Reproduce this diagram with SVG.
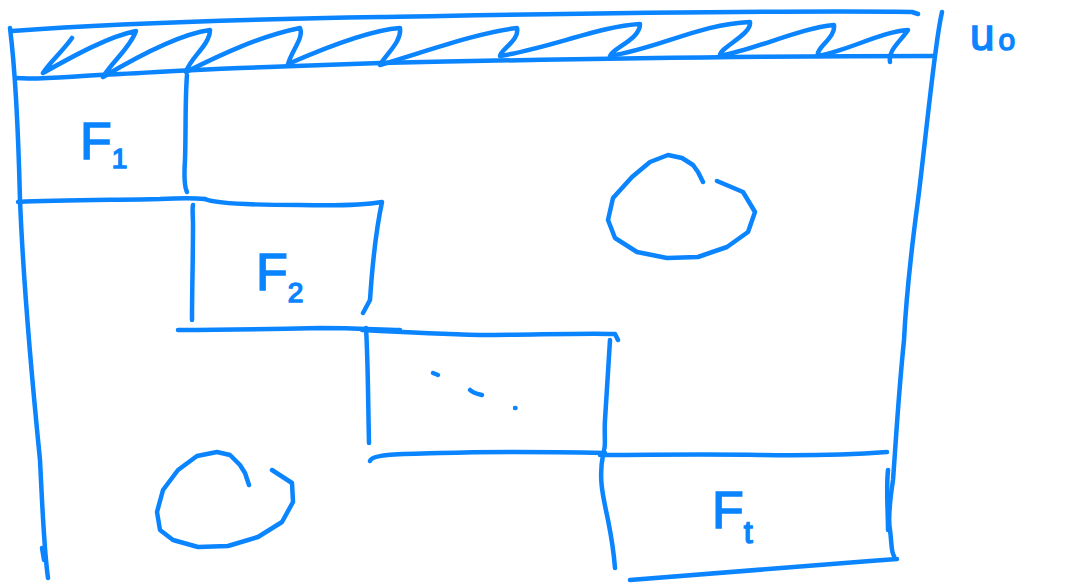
<svg xmlns="http://www.w3.org/2000/svg" width="1068" height="584" viewBox="0 0 1068 584">
<style>
.s{fill:none;stroke:#0a84ff;stroke-width:4.5;stroke-linecap:round;stroke-linejoin:round}
.t{fill:#0a84ff;stroke:#0a84ff;stroke-width:1.5;font-family:"Liberation Sans",Arial,sans-serif}
</style>
<rect width="1068" height="584" fill="#fff"/>
<g id="frame">
<path class="s" d="M12,31 C80,26 200,20 380,17 C560,14 760,10 912,12 L918,14"/>
<path class="s" d="M10,28 C14,60 18,120 20,200 C24,300 34,400 40,460 C43,520 44,550 48,578"/>
<path class="s" d="M42,548 L44,560"/>
<path class="s" d="M942,12 C938,30 936,50 935,56 C928,110 922,170 918,200 C910,260 906,300 904,340 C898,400 896,440 893,480 C890,500 888,520 890,530 C892,545 891,552 894,556"/>
<path class="s" d="M16,78 C40,80 70,76 120,74 C160,72 186,70 240,68 C300,66 350,64 380,63 C560,59 760,56 935,56"/>
<path class="s" d="M72,38 C62,52 50,62 43,73 C75,55 110,36 136,31 C130,48 112,62 103,77 C140,55 180,34 210,30 C210,45 190,58 186,72 C220,55 260,36 300,28 C304,38 292,50 288,64 C320,50 370,30 400,28 C402,42 385,55 380,65 C430,50 480,32 517,28 C520,40 500,50 500,56 C550,48 600,26 640,24 C640,40 612,48 610,56 C660,48 700,24 750,22 C752,35 718,48 720,56 C760,48 800,28 834,25 C836,38 815,48 818,56 C850,50 880,32 908,30 C900,42 888,50 890,62"/>
</g>
<g id="F1">
<path class="s" d="M187,75 C185,100 186,130 185,160 C184,175 185,188 187,192"/>
<path class="s" d="M18,202 C60,200 120,200 160,199 C180,198 195,198 205,199"/>
<text class="t" x="80" y="159" font-size="52">F<tspan font-size="28" dy="9">1</tspan></text>
</g>
<g id="F2">
<path class="s" d="M205,199 C215,204 260,205 300,205 C340,206 370,204 382,202 C376,230 372,270 370,300 L363,313"/>
<path class="s" d="M193,205 C192,208 193,215 193,225 C193,260 192,290 192,320"/>
<path class="s" d="M178,330 C220,330 280,329 320,328 C360,328 380,330 400,330"/>
<text class="t" x="256" y="290" font-size="52">F<tspan font-size="28" dy="12">2</tspan></text>
</g>
<g id="F3">
<path class="s" d="M362,330 C400,332 440,334 480,335 C530,335 580,333 615,334 L618,340"/>
<path class="s" d="M366,328 C368,360 368,400 369,443"/>
<path class="s" d="M610,340 C608,370 606,400 605,420 C604,435 606,445 604,450"/>
<path class="s" d="M370,461 C372,454 400,454 440,453 C500,451 560,452 605,453"/>
<path class="s" d="M433,373 L438,375"/>
<path class="s" d="M470,390 C473,393 478,394 482,395"/>
<path class="s" d="M515,408 L515.5,408"/>
</g>
<g id="Ft">
<path class="s" d="M600,455 C650,455 700,454 760,455 C820,456 860,454 887,452"/>
<path class="s" d="M603,455 C598,480 604,500 608,520 C612,540 614,555 615,568"/>
<path class="s" d="M630,580 C700,574 800,566 897,559"/>
<path class="s" d="M888,470 C886,490 888,510 888,530" stroke-width="6"/>
<text class="t" x="712" y="528" font-size="52">F<tspan font-size="32" dy="15">t</tspan></text>
</g>
<g id="blob1">
<path class="s" d="M703,182 L698,172 L693,165 L682,158 L668,155 L650,162 L632,177 L613,198 L608,220 L615,238 L637,252 L667,258 L698,257 L727,247 L748,232 L755,212 L743,192 L717,181"/>
</g>
<g id="blob2">
<path class="s" d="M249,485 L245,473 L240,465 L230,455 L217,452 L197,456 L178,470 L163,490 L157,512 L160,530 L173,540 L198,547 L228,546 L258,537 L282,522 L293,502 L292,483 L272,470"/>
</g>
<g id="label">
<text class="t" x="970" y="50" font-size="44">u<tspan font-size="30" dx="4" dy="0">o</tspan></text>
</g>
</svg>
